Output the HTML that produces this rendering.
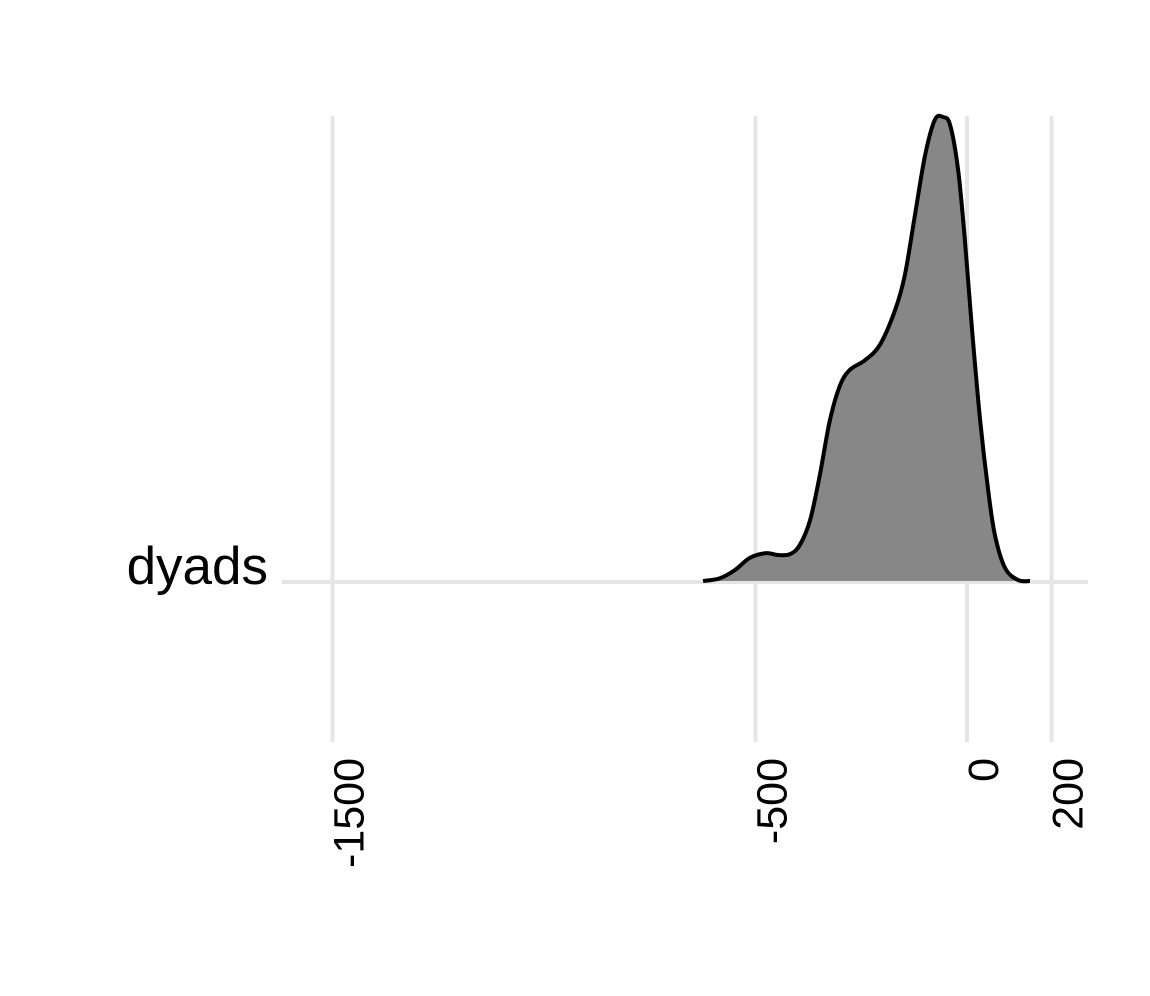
<!DOCTYPE html>
<html><head><meta charset="utf-8"><style>body{margin:0;background:#fff}svg{display:block}</style></head>
<body>
<svg width="1150" height="996" font-family="Liberation Sans, sans-serif">
<g id="grid"></g>
<path id="area" fill="#878787" stroke="none"></path>
<path id="line" fill="none" stroke="#000" stroke-width="4" stroke-linejoin="round"></path>
<text x="268" y="584" font-size="53" text-anchor="end">dyads</text>
<g id="ticks"></g>
</svg>
<script>
const tickValues=[-1500,-500,0,200];
const tickLabels=["-1500","-500","0","200"];
const xValues=[-624,-584,-548,-513,-475,-447,-418,-395,-371,-348,-324,-300,-277,-241,-206,-170,-147,-123,-99,-76,-57,-40,-21,-5,12,31,50,66,90,121,149];
const densityValues=[0,.006,.024,.050,.060,.056,.058,.078,.131,.228,.347,.422,.455,.476,.509,.584,.659,.789,.918,.994,1.0,.983,.886,.735,.541,.347,.196,.099,.028,.002,0];
const NS="http://www.w3.org/2000/svg";
const xs=v=>967+v*0.423;
const ys=d=>581-d*464;
const grid=document.getElementById('grid'),ticks=document.getElementById('ticks');
const h=document.createElementNS(NS,'line');
h.setAttribute('x1',282);h.setAttribute('x2',1088);h.setAttribute('y1',582);h.setAttribute('y2',582);
h.setAttribute('stroke','#e5e5e5');h.setAttribute('stroke-width',4);


grid.appendChild(h);
tickValues.forEach((v,i)=>{
  const l=document.createElementNS(NS,'line');
  l.setAttribute('x1',xs(v));l.setAttribute('x2',xs(v));l.setAttribute('y1',116);l.setAttribute('y2',742);
  l.setAttribute('stroke','#e5e5e5');l.setAttribute('stroke-width',4);
  
  
  grid.appendChild(l);
  const t=document.createElementNS(NS,'text');
  const x=xs(v)+17,y=758;
  t.setAttribute('transform',`translate(${x},${y}) rotate(-90)`);
  t.setAttribute('text-anchor','end');t.setAttribute('dominant-baseline','central');
  t.setAttribute('font-size',43);
  t.textContent=tickLabels[i];
  
  
  ticks.appendChild(t);
});
const pts=xValues.map((v,i)=>[xs(v),ys(densityValues[i])]);
function smooth(p){let d=`M${p[0][0]},${p[0][1]}`;
 for(let i=0;i<p.length-1;i++){const p0=p[i-1]||p[i],p1=p[i],p2=p[i+1],p3=p[i+2]||p2;
  d+=` C${p1[0]+(p2[0]-p0[0])/6},${p1[1]+(p2[1]-p0[1])/6} ${p2[0]-(p3[0]-p1[0])/6},${p2[1]-(p3[1]-p1[1])/6} ${p2[0]},${p2[1]}`;}
 return d;}
const d=smooth(pts);
document.getElementById('line').setAttribute('d',d);
document.getElementById('area').setAttribute('d',d+` L${pts[pts.length-1][0]},581 L${pts[0][0]},581 Z`);
</script>
</body></html>
